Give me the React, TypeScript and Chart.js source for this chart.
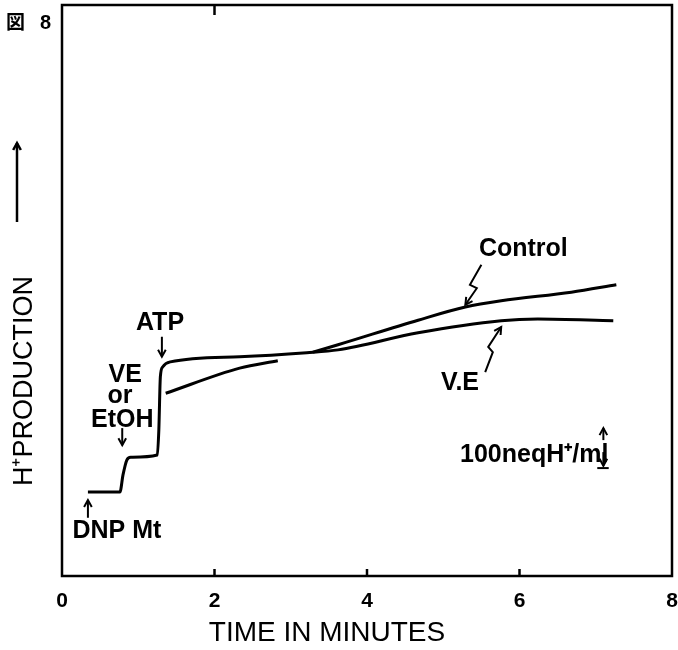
import React, { useEffect, useRef } from "react";
import { Chart, registerables } from "chart.js";

Chart.register(...registerables);

// ---- data (x: minutes, y: relative H+ production, 0..100) ----
const xTicks = [0, 2, 4, 6, 8];
const veX = [0.34, 0.76, 0.8, 0.85, 0.9, 1.25, 1.27, 1.29, 1.32, 1.42, 2.33, 3.21, 3.62, 4.67, 5.76, 6.24, 7.23];
const veY = [14.7, 14.7, 17.7, 20.3, 20.8, 21.2, 25.6, 34.9, 36.6, 37.5, 38.4, 39.1, 39.6, 42.6, 44.7, 45.0, 44.7];
const ctrlX = [1.36, 2.33, 2.83, 2.95, 3.29, 3.62, 4.67, 5.29, 5.76, 6.68, 7.27];
const ctrlY: (number | null)[] = [32.0, 36.4, 37.7, null, 39.2, 40.5, 44.8, 47.1, 48.2, 49.7, 51.0];

// annotations (data coordinates)
const textLabels = [
  { text: "ATP", x: 1.285, y: 44.3 },
  { text: "VE", x: 0.83, y: 35.2 },
  { text: "or", x: 0.76, y: 31.5 },
  { text: "EtOH", x: 0.79, y: 27.3 },
  { text: "DNP Mt", x: 0.72, y: 7.9 },
  { text: "Control", x: 6.05, y: 57.3 },
  { text: "V.E", x: 5.22, y: 33.8 },
];
const arrows = [
  { pts: [[1.31, 41.9], [1.31, 38.4]] },
  { pts: [[0.79, 25.9], [0.79, 22.9]] },
  { pts: [[0.34, 10.2], [0.34, 13.3]] },
  { pts: [[5.5, 54.5], [5.35, 51.0], [5.44, 50.4], [5.29, 47.5]] },
  { pts: [[5.55, 35.7], [5.65, 39.2], [5.59, 40.1], [5.76, 43.6]] },
  { pts: [[7.1, 23.8], [7.1, 25.9]] },
  { pts: [[7.1, 21.7], [7.1, 19.3]] },
];
const scaleBar = { x1: 7.02, x2: 7.17, y: 18.9 };
const unitLabel = { text: "100neqH⁺/ml", x: 5.22, y: 21.2 };

const FONT = "'Liberation Sans', Arial, sans-serif";

function drawArrow(ctx: CanvasRenderingContext2D, pts: number[][]) {
  ctx.beginPath();
  ctx.moveTo(pts[0][0], pts[0][1]);
  for (let i = 1; i < pts.length; i++) ctx.lineTo(pts[i][0], pts[i][1]);
  ctx.stroke();
  const a = pts[pts.length - 2];
  const b = pts[pts.length - 1];
  const ang = Math.atan2(b[1] - a[1], b[0] - a[0]);
  const L = 8;
  ctx.beginPath();
  ctx.moveTo(b[0] - L * Math.cos(ang - 0.5), b[1] - L * Math.sin(ang - 0.5));
  ctx.lineTo(b[0], b[1]);
  ctx.lineTo(b[0] - L * Math.cos(ang + 0.5), b[1] - L * Math.sin(ang + 0.5));
  ctx.stroke();
}

const decorPlugin = {
  id: "decor",
  afterDatasetsDraw(chart: any) {
    const { ctx, chartArea, scales } = chart;
    const xs = scales.x;
    const ys = scales.y;
    ctx.save();
    ctx.strokeStyle = "#000";
    ctx.fillStyle = "#000";
    // frame
    ctx.lineWidth = 2.5;
    ctx.strokeRect(chartArea.left, chartArea.top, chartArea.right - chartArea.left, chartArea.bottom - chartArea.top);
    // inner ticks
    [2, 4, 6].forEach((v) => {
      const px = xs.getPixelForValue(v);
      ctx.beginPath();
      ctx.moveTo(px, chartArea.bottom);
      ctx.lineTo(px, chartArea.bottom - 7);
      ctx.stroke();
    });
    {
      const px = xs.getPixelForValue(2);
      ctx.beginPath();
      ctx.moveTo(px, chartArea.top);
      ctx.lineTo(px, chartArea.top + 10);
      ctx.stroke();
    }
    // text labels
    ctx.font = `bold 25px ${FONT}`;
    ctx.textAlign = "center";
    ctx.textBaseline = "middle";
    textLabels.forEach((t) => {
      ctx.fillText(t.text, xs.getPixelForValue(t.x), ys.getPixelForValue(t.y));
    });
    ctx.textAlign = "left";
    ctx.fillText(unitLabel.text, xs.getPixelForValue(unitLabel.x), ys.getPixelForValue(unitLabel.y));
    // arrows
    ctx.lineWidth = 2;
    arrows.forEach((a) => {
      drawArrow(ctx, a.pts.map((p) => [xs.getPixelForValue(p[0]), ys.getPixelForValue(p[1])]));
    });
    ctx.beginPath();
    ctx.moveTo(xs.getPixelForValue(scaleBar.x1), ys.getPixelForValue(scaleBar.y));
    ctx.lineTo(xs.getPixelForValue(scaleBar.x2), ys.getPixelForValue(scaleBar.y));
    ctx.stroke();
    // axis titles
    ctx.textAlign = "center";
    ctx.font = `28px ${FONT}`;
    ctx.fillText("TIME IN MINUTES", 327, 633);
    ctx.save();
    ctx.translate(25, 381);
    ctx.rotate(-Math.PI / 2);
    ctx.font = `27px ${FONT}`;
    ctx.fillText("H⁺PRODUCTION", 0, 0);
    ctx.restore();
    ctx.lineWidth = 2.5;
    drawArrow(ctx, [[17, 222], [17, 143]]);
    // figure label
    ctx.textAlign = "left";
    ctx.textBaseline = "alphabetic";
    ctx.font = `bold 19px 'Noto Sans CJK JP', sans-serif`;
    ctx.fillText("図", 6, 29);
    ctx.font = `bold 20px ${FONT}`;
    ctx.fillText("8", 40, 29);
    ctx.restore();
  },
};

export default function App() {
  const ref = useRef<HTMLCanvasElement>(null);
  useEffect(() => {
    if (!ref.current) return;
    const chart = new Chart(ref.current, {
      type: "line",
      data: {
        datasets: [
          {
            label: "Control",
            data: ctrlX.map((x, i) => ({ x, y: ctrlY[i] as any })),
            borderColor: "#000",
            borderWidth: 3,
            pointRadius: 0,
            cubicInterpolationMode: "monotone",
            spanGaps: false,
          },
          {
            label: "V.E",
            data: veX.map((x, i) => ({ x, y: veY[i] })),
            borderColor: "#000",
            borderWidth: 3,
            pointRadius: 0,
            cubicInterpolationMode: "monotone",
          },
        ],
      },
      options: {
        animation: false,
        responsive: false,
        layout: { padding: { top: 5, right: 6, left: 0, bottom: 0 } },
        plugins: { legend: { display: false }, tooltip: { enabled: false } },
        scales: {
          x: {
            type: "linear",
            min: 0,
            max: 8,
            afterBuildTicks: (s: any) => {
              s.ticks = xTicks.map((v) => ({ value: v }));
            },
            afterFit: (s: any) => {
              s.height = 74;
              s.paddingLeft = 0;
              s.paddingRight = 0;
            },
            grid: { display: false, drawTicks: false },
            border: { display: false },
            ticks: {
              padding: 13,
              color: "#000",
              font: { family: FONT, size: 21, weight: "bold" },
            },
          },
          y: {
            type: "linear",
            min: 0,
            max: 100,
            afterFit: (s: any) => {
              s.width = 62;
              s.paddingTop = 0;
              s.paddingBottom = 0;
            },
            grid: { display: false, drawTicks: false },
            border: { display: false },
            ticks: { display: false },
          },
        },
      },
      plugins: [decorPlugin],
    });
    return () => chart.destroy();
  }, []);
  return (
    <div style={{ position: "absolute", left: 0, top: 0, width: 678, height: 650, background: "#fff" }}>
      <canvas ref={ref} width={678} height={650} style={{ width: 678, height: 650 }} />
    </div>
  );
}
